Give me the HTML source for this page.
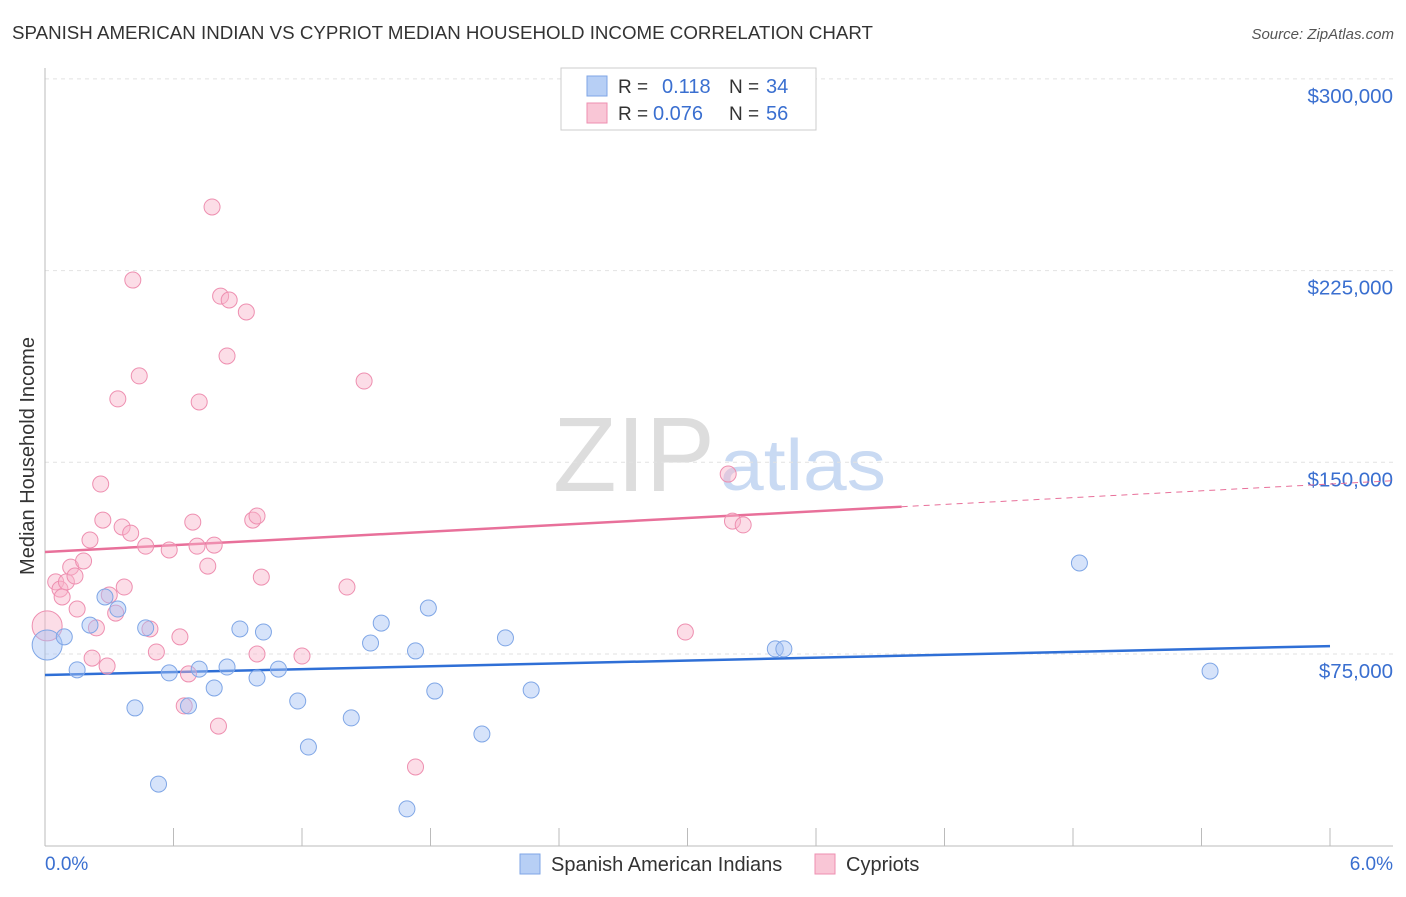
<!DOCTYPE html>
<html><head><meta charset="utf-8"><style>
body{margin:0;background:#fff;font-family:"Liberation Sans",sans-serif}
svg text{font-family:"Liberation Sans",sans-serif}
</style></head><body>
<svg id="chart" width="1406" height="892">
<text x="12" y="39" font-size="18" fill="#333" textLength="861" lengthAdjust="spacingAndGlyphs">SPANISH AMERICAN INDIAN VS CYPRIOT MEDIAN HOUSEHOLD INCOME CORRELATION CHART</text>
<text x="1394" y="39" font-size="15" fill="#555" text-anchor="end" font-style="italic">Source: ZipAtlas.com</text>
<text x="553" y="491" font-size="106" fill="#ddd" textLength="162" lengthAdjust="spacingAndGlyphs" font-family="Liberation Serif">ZIP</text>
<text x="720" y="490" font-size="72" fill="#c9daf3" textLength="166" lengthAdjust="spacingAndGlyphs">atlas</text>
<g id="grid"></g><g id="axes"></g><g id="lines"></g><g id="pts"></g>
<text transform="translate(34,456) rotate(-90)" font-size="20" fill="#333" text-anchor="middle">Median Household Income</text>
<text x="45" y="870" font-size="19" fill="#3a6fd0">0.0%</text>
<text x="1393" y="870" font-size="19" fill="#3a6fd0" text-anchor="end">6.0%</text>
<g>
<rect x="561" y="68" width="255" height="62" fill="#fff" stroke="#ccc"/>
<rect x="587" y="76" width="20" height="20" fill="#b7cff5" stroke="#7fa6e6"/>
<text x="618" y="93" font-size="19" fill="#333">R = </text><text x="662" y="93" font-size="20" fill="#3a6fd0">0.118</text>
<text x="729" y="93" font-size="19" fill="#333">N = </text><text x="766" y="93" font-size="20" fill="#3a6fd0">34</text>
<rect x="587" y="103" width="20" height="20" fill="#f9c6d6" stroke="#ee8fb0"/>
<text x="618" y="120" font-size="19" fill="#333">R = </text><text x="653" y="120" font-size="20" fill="#3a6fd0">0.076</text>
<text x="729" y="120" font-size="19" fill="#333">N = </text><text x="766" y="120" font-size="20" fill="#3a6fd0">56</text>
</g>
<g>
<rect x="520" y="854" width="20" height="20" fill="#b7cff5" stroke="#7fa6e6"/>
<text x="551" y="871" font-size="20" fill="#333">Spanish American Indians</text>
<rect x="815" y="854" width="20" height="20" fill="#f9c6d6" stroke="#ee8fb0"/>
<text x="846" y="871" font-size="20" fill="#333">Cypriots</text>
</g>
</svg>
<script>
const yTicks=[75000,150000,225000,300000];
const yTickLabels=["$75,000","$150,000","$225,000","$300,000"];
const blueX=[0.01,0.09,0.15,0.21,0.28,0.34,0.42,0.47,0.53,0.58,0.67,0.72,0.79,0.85,0.91,0.99,1.02,1.09,1.18,1.23,1.43,1.52,1.57,1.69,1.73,1.79,1.82,2.04,2.15,2.27,3.41,3.45,4.83,5.44];
const blueY=[78.5,81.7,68.8,86.3,97.3,92.6,53.9,85.2,24.1,67.6,54.7,69.1,61.7,69.9,84.8,65.6,83.6,69.1,56.6,38.6,50.0,79.3,87.1,14.4,76.2,93.0,60.5,43.7,81.3,60.9,77.0,77.0,110.6,68.3];
const pinkX=[0.01,0.05,0.07,0.08,0.10,0.12,0.14,0.15,0.18,0.21,0.22,0.24,0.26,0.27,0.29,0.30,0.33,0.34,0.37,0.36,0.40,0.41,0.44,0.47,0.49,0.52,0.58,0.63,0.65,0.67,0.69,0.72,0.71,0.76,0.78,0.79,0.81,0.82,0.85,0.86,0.94,0.97,0.99,0.99,1.01,1.20,1.41,1.49,1.73,2.99,3.19,3.21,3.26];
const pinkY=[86.0,103.2,100.4,97.3,103.2,109.0,105.5,92.6,111.4,119.6,73.4,85.2,141.5,127.4,70.3,98.1,91.0,174.8,101.2,124.7,122.3,221.3,183.8,117.2,84.8,75.8,115.7,81.7,54.7,67.2,126.6,173.6,117.2,109.4,249.9,117.6,46.8,215.0,191.6,213.5,208.8,127.4,129.0,75.0,105.1,74.2,101.2,181.8,30.8,83.6,145.4,127.0,125.5];
const blueTrend=[66.8,78.1];   // at 0% and 6%
const pinkTrend=[114.9,141.5]; // at 0% and 6%
const pinkSolidEnd=4.0;
const NS="http://www.w3.org/2000/svg";
const X=p=>45+p/6*1285;
const Y=v=>654-(v-75000)*191.7/75000;
function mk(tag,attrs,parent){const e=document.createElementNS(NS,tag);for(const k in attrs)e.setAttribute(k,attrs[k]);document.getElementById(parent).appendChild(e);return e;}
yTicks.forEach((t,i)=>{
  const g=mk('line',{x1:45,x2:1393,y1:Y(t),y2:Y(t),stroke:'#e2e2e2','stroke-dasharray':'4,4'},'grid');
  
  
  const tx=mk('text',{x:1393,y:Y(t)+24,'font-size':20.5,fill:'#3a6fd0','text-anchor':'end'},'grid');
  tx.textContent=yTickLabels[i];
  
  
});
mk('line',{x1:45,x2:45,y1:68,y2:846,stroke:'#bbb'},'axes');
mk('line',{x1:45,x2:1393,y1:846,y2:846,stroke:'#bbb'},'axes');
for(let i=0;i<=10;i++){const l=mk('line',{x1:X(i*0.6),x2:X(i*0.6),y1:828,y2:846,stroke:'#bbb'},'axes');
  
  }
const bl=mk('line',{x1:X(0),y1:Y(blueTrend[0]*1000),x2:X(6),y2:Y(blueTrend[1]*1000),stroke:'#2f6fd6','stroke-width':2.5},'lines');


const pv=p=>pinkTrend[0]+(pinkTrend[1]-pinkTrend[0])*p/6;
const pl=mk('line',{x1:X(0),y1:Y(pv(0)*1000),x2:X(pinkSolidEnd),y2:Y(pv(pinkSolidEnd)*1000),stroke:'#e8709a','stroke-width':2.5},'lines');


const pd=mk('line',{x1:X(pinkSolidEnd),y1:Y(pv(pinkSolidEnd)*1000),x2:1393,y2:Y(pv((1393-45)/1285*6)*1000),stroke:'#e8709a','stroke-width':1,'stroke-dasharray':'6,5'},'lines');


function pts(xs,ys,fill,stroke,name){xs.forEach((x,i)=>{
  const c=mk('circle',{cx:X(x),cy:Y(ys[i]*1000),r:i===0?15:8,fill:fill,stroke:stroke,'stroke-width':1},'pts');
  
  
});}
pts(pinkX,pinkY,'rgba(248,180,202,0.45)','#ee8fb0','cypriot-point');
pts(blueX,blueY,'rgba(164,194,244,0.45)','#7fa6e6','spanish-american-indian-point');
</script>
</body></html>
